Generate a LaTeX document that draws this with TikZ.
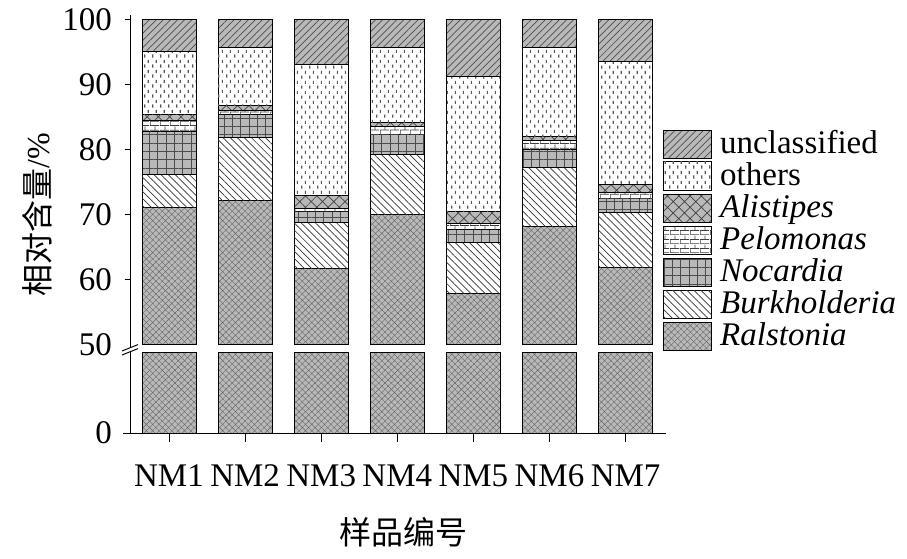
\documentclass[tikz,border=0pt]{standalone}
\usepackage{fontspec}
\setmainfont{Liberation Serif}
\newfontfamily\cjk{Noto Sans CJK SC}
\usetikzlibrary{patterns.meta}
\tikzdeclarepattern{
  name=vdashes,
  type=uncolored,
  bounding box={(0pt,0pt) and (7.5pt,10pt)},
  tile size={(7.5pt,10pt)},
  code={
    \draw[line width=1.2pt] (1.9pt,0.5pt) -- (1.9pt,3.8pt);
    \draw[line width=1.2pt] (5.6pt,5.5pt) -- (5.6pt,8.8pt);
  }
}
\tikzdeclarepattern{
  name=mybricks,
  type=uncolored,
  bounding box={(0pt,0pt) and (10pt,9pt)},
  tile size={(10pt,9pt)},
  code={
    \draw[line width=0.8pt] (0pt,0.4pt) -- (10pt,0.4pt);
    \draw[line width=0.8pt] (0pt,4.9pt) -- (10pt,4.9pt);
    \draw[line width=0.8pt] (0.4pt,0.4pt) -- (0.4pt,4.9pt);
    \draw[line width=0.8pt] (5.4pt,4.9pt) -- (5.4pt,9pt);
  }
}
\tikzset{
  segbox/.style={draw=black, line width=1pt},
  unc/.style={segbox, preaction={fill=gray!55}, pattern={Lines[angle=45,distance=5pt,line width=0.7pt]}, pattern color=black!70},
  oth/.style={segbox, fill=white, postaction={pattern=vdashes, pattern color=gray!70!black}},
  ali/.style={segbox, preaction={fill=gray!55}, pattern={Hatch[angle=45,distance=8pt,line width=0.7pt]}, pattern color=black!75},
  pel/.style={segbox, fill=white, postaction={pattern=mybricks, pattern color=black!75}},
  noc/.style={segbox, preaction={fill=gray!55}, pattern={Hatch[angle=0,distance=8.3pt,line width=0.7pt]}, pattern color=black!70},
  bur/.style={segbox, fill=white, postaction={pattern={Lines[angle=-45,distance=5pt,line width=0.7pt]}, pattern color=black!80}},
  ral/.style={segbox, preaction={fill=gray!55}, pattern={Hatch[angle=45,distance=4.5pt,line width=0.4pt]}, pattern color=black!60},
  axisline/.style={line width=1pt, black},
  ticklab/.style={inner sep=0pt, font=\fontsize{33}{36}\selectfont},
  legtext/.style={inner sep=0pt, anchor=base west, font=\fontsize{33}{36}\selectfont},
}
\newcommand{\segm}[4]{%
  \path[#4] (#1, {6.5*#2-111.5}) rectangle ++(54, {6.5*(#3-#2)});
}
\begin{document}
\begin{tikzpicture}[x=1pt,y=1pt]
\useasboundingbox (0,0) rectangle (907,558);
% bars
\foreach \i/\R/\B/\N/\P/\A/\O in {
  1/71.1/76.2/82.7/84.5/85.4/95.0,
  2/72.2/81.9/85.4/86.0/86.7/95.7,
  3/61.7/68.8/70.4/71.0/73.0/93.0,
  4/70.0/79.3/82.3/83.5/84.1/95.7,
  5/57.9/65.7/67.7/68.6/70.4/91.2,
  6/68.2/77.2/80.0/81.4/82.0/95.7,
  7/61.8/70.3/72.5/73.4/74.6/93.5}{
  \pgfmathsetmacro{\xl}{142+76.1*(\i-1)}
  \path[ral] (\xl,125) rectangle ++(54,81);
  \segm{\xl}{50}{\R}{ral}
  \segm{\xl}{\R}{\B}{bur}
  \segm{\xl}{\B}{\N}{noc}
  \segm{\xl}{\N}{\P}{pel}
  \segm{\xl}{\P}{\A}{ali}
  \segm{\xl}{\A}{\O}{oth}
  \segm{\xl}{\O}{100}{unc}
}
% y axis
\coordinate (ytop) at (130.5,543);
\coordinate (ybrkU) at (130.5,210.4);
\coordinate (ybrkL) at (130.5,206.4);
\coordinate (orig) at (130.5,124.5);
\draw[axisline] (ytop) -- (ybrkU);
\draw[axisline] (ybrkL) -- (orig);
\coordinate (s1a) at (122,207);
\coordinate (s1b) at (138,213.4);
\coordinate (s2a) at (122,203);
\coordinate (s2b) at (138,209.4);
\draw[axisline] (s1a) -- (s1b);
\draw[axisline] (s2a) -- (s2b);
\foreach \v in {60,70,80,90,100}{
  \draw[axisline] (124.5,{6.5*\v-111.5}) -- (130.5,{6.5*\v-111.5});
  \node[ticklab, anchor=east] (yl\v) at (112,{6.5*\v-111.5}) {\v};
}
\node[ticklab, anchor=east] (yl50) at (112,213.5) {50};
\node[ticklab, anchor=east] (yl0) at (112,125) {0};
% x axis
\coordinate (xl) at (123,124.5);
\coordinate (xr) at (665.5,124.5);
\draw[axisline] (xl) -- (xr);
\foreach \i in {1,...,7}{
  \pgfmathsetmacro{\xc}{169+76.1*(\i-1)}
  \draw[axisline] (\xc,124.5) -- (\xc,116.5);
  \node[ticklab, anchor=base] (xlab\i) at (\xc,72) {NM\i};
}
% axis titles
\node[inner sep=0pt, anchor=base, font=\fontsize{32}{36}\selectfont] (xtitle) at (403.5,14) {\cjk 样品编号};
\node[inner sep=0pt, anchor=base, rotate=90, font=\fontsize{32}{36}\selectfont] (ytitle) at (49,343) {{\cjk 相对含量}/\%};
% legend
\foreach \st/\yc/\txt [count=\k] in {
  unc/413.5/unclassified,
  oth/382/others,
  ali/350/\itshape Alistipes,
  pel/318/\itshape Pelomonas,
  noc/285.5/\itshape Nocardia,
  bur/254/\itshape Burkholderia,
  ral/222/\itshape Ralstonia}{
  \path[\st] (663.5,\yc-14) rectangle (711.5,\yc+14);
  \node[legtext] (leg\k) at (720,\yc-9) {\txt};
}
\end{tikzpicture}
\end{document}
